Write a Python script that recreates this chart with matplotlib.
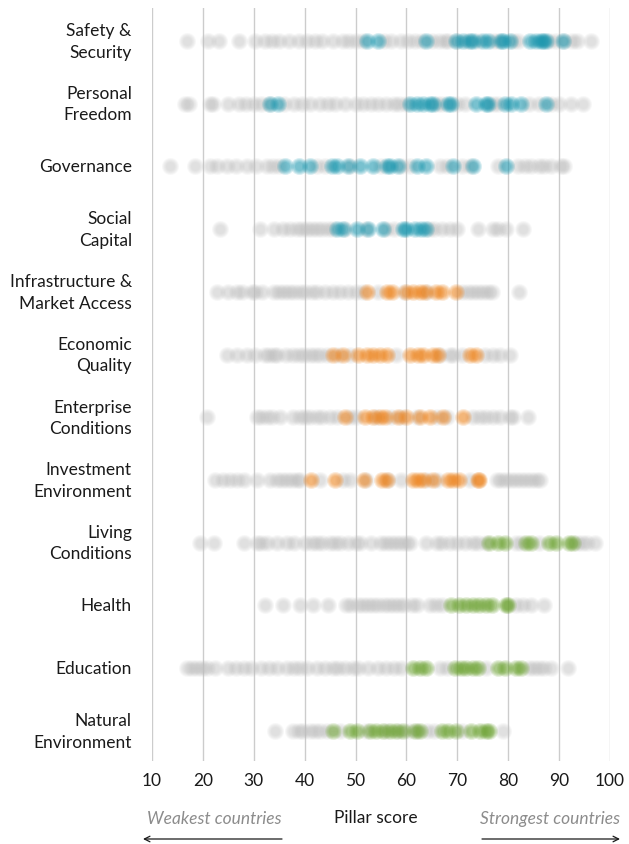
import numpy as np
import matplotlib
matplotlib.use('Agg')
from matplotlib import pyplot as plt

plt.rcParams['font.family'] = ['Lato', 'DejaVu Sans']

# pillar names, top to bottom
pillars = ['Safety &\nSecurity', 'Personal\nFreedom', 'Governance', 'Social\nCapital',
           'Infrastructure &\nMarket Access', 'Economic\nQuality', 'Enterprise\nConditions',
           'Investment\nEnvironment', 'Living\nConditions', 'Health', 'Education',
           'Natural\nEnvironment']

# scores of all countries (grey) and of the highlighted region (coloured)
safety_all = [16.9, 21.1, 23.1, 27.1, 30.3, 32.2, 33.6, 35, 37, 38.8, 40.5, 42, 43.5, 45.5, 47.5, 48.7,
              50, 51.5, 55.5, 57, 59, 60.3, 61.7, 63, 65, 66.3, 67.5, 68.2, 70, 72, 74, 77, 78, 81, 82,
              88, 89.3, 91, 92.5, 93.5, 96.3]
safety_reg = [52.2, 54.4, 63.9, 69.8, 71.1, 72.5, 73.1, 75, 76, 78.5, 79, 80.3, 84.2, 85.5, 86.5,
              86.8, 87.5, 90.7]
freedom_all = [16.5, 17.2, 21.4, 22, 25, 27, 28.5, 30, 31.5, 33, 36, 38, 39.5, 41, 43, 44.5, 46, 48,
               50, 51.5, 53, 54.5, 56, 57.5, 58.5, 60, 66, 67, 70, 71.5, 77, 78, 84, 86, 88.5, 90,
               92.4, 94.6]
freedom_reg = [33.1, 34.8, 60.7, 62, 63.3, 64.6, 65.3, 68.2, 68.8, 73.7, 75.7, 76.1, 79.3, 80.6,
               82.5, 87.5]
governance_all = [13.5, 18.5, 21.4, 22.7, 24.7, 26.6, 28.6, 30.5, 32.5, 33.8, 35, 42.5, 44, 49, 55,
                  59, 60.7, 66.6, 68, 71, 72.5, 78, 82, 83.2, 84.5, 86, 87, 88.5, 90.3, 91]
governance_reg = [36.1, 38.8, 41, 45.3, 46.3, 48.6, 50.8, 53.5, 56.1, 56.8, 58.4, 62, 63.9, 69.2,
                  73.1, 79.6]
social_all = [23.4, 31.2, 33.9, 35.8, 37.1, 38.5, 39.5, 40.5, 41.5, 42.5, 43.5, 44.5, 45.5, 48, 52,
              56, 57.5, 64.5, 65.5, 67, 68.5, 70, 74, 77, 78, 79.6, 82.9]
social_reg = [46.3, 47.6, 50.2, 52.5, 55.4, 59.3, 60, 61.6, 62.9, 63.9]
infra_all = [22.7, 25, 26.7, 27.6, 29.6, 30.3, 31.6, 34, 35, 36, 37, 38, 39, 40, 41.5, 42.5, 44,
             45.5, 47, 48.5, 50, 51.5, 54.5, 59.5, 64, 71, 72, 73, 74, 75, 76, 76.8, 82.2]
infra_reg = [52.2, 56.1, 57.1, 60, 61.3, 62.6, 63.6, 65.9, 66.9, 69.8]
economic_all = [24.7, 26.7, 28.6, 30.3, 32.2, 33, 34, 34.5, 36.3, 37.8, 38.8, 39.8, 41, 42, 43, 44.3,
                46.5, 49, 58, 66.5, 68.5, 69.2, 71, 75.5, 77, 78.3, 80.3]
economic_reg = [45.6, 47.6, 50.5, 52.2, 53.5, 54.8, 56.1, 60.7, 62.3, 63.3, 65.2, 66.2, 72.4, 73.7]
enterprise_all = [20.8, 30.6, 31.5, 32.5, 33.5, 35.2, 37.8, 39, 40, 41, 42.5, 43.5, 45, 46.3, 49, 50,
                  54, 57, 59, 62, 66, 68, 73, 74.5, 75.7, 77, 78.3, 80.3, 81, 83.9]
enterprise_reg = [47.9, 51.8, 53.5, 54.8, 55.8, 58.4, 60, 62.6, 64.6, 67.2, 71.1]
investment_all = [22.4, 24, 25.3, 26.7, 28, 30.6, 33.2, 34.5, 35.5, 36.5, 37.5, 38.5, 39, 43, 47.6,
                  49, 52, 56.3, 59, 64, 66, 72.5, 77.7, 78.5, 79.5, 80.5, 81.5, 82.5, 83.5, 84.5,
                  85.5, 86.2]
investment_reg = [41.2, 46, 51.6, 55.1, 56.1, 61.3, 62.3, 63.3, 65.2, 68.2, 69.2, 70.4, 74, 74.3]
living_all = [19.5, 22.2, 28, 30.6, 31.5, 32.5, 34.5, 36.5, 38, 40, 41.5, 42.5, 43.5, 45, 46, 47,
              48.5, 50, 50.8, 53, 55, 56, 57, 58, 59, 60, 60.7, 63.9, 66, 67, 68.5, 70, 71.5, 73,
              74, 75.7, 81.5, 82.5, 86, 93.5, 94.5, 95.5, 97]
living_reg = [76.3, 78, 79.3, 83.5, 84.5, 88.1, 89.4, 92, 92.7]
health_all = [32.2, 35.8, 39.1, 41.7, 44.6, 48.2, 49.2, 50.5, 51.5, 52.5, 53.5, 54.5, 55.5, 56.5,
              57.5, 58.5, 59.5, 61, 62, 64.6, 65.8, 67, 81.5, 83, 84.5, 87.1]
health_reg = [68.8, 70.4, 71.7, 73, 74.3, 75.6, 76.9, 79.5, 79.9]
education_all = [16.9, 17.8, 18.8, 19.8, 20.8, 22.4, 25, 26.5, 28, 29.5, 31.5, 33, 34.5, 36.5, 38,
                 39, 40.5, 42.5, 44, 45.5, 46.5, 48, 49.5, 50.5, 52.5, 54.5, 56, 57.5, 59, 66.5, 68,
                 75.7, 84, 85, 86, 87, 88.5, 91.7]
education_reg = [61.3, 62.6, 63.9, 69.5, 70.8, 71.8, 73.1, 74.1, 78, 79.3, 81.6, 82.5]
natural_all = [34.2, 37.8, 38.8, 39.7, 41, 42, 43, 44.3, 47, 52, 56, 58.5, 60.5, 62, 64, 65.5, 71, 79]
natural_reg = [45.6, 48.9, 50.2, 52.8, 54.1, 55.4, 56.7, 58, 59.3, 61.6, 62.6, 66.9, 68.2, 69.8,
               72.7, 74.4, 75.7, 76.3]

all_scores = [safety_all, freedom_all, governance_all, social_all, infra_all, economic_all,
              enterprise_all, investment_all, living_all, health_all, education_all, natural_all]
reg_scores = [safety_reg, freedom_reg, governance_reg, social_reg, infra_reg, economic_reg,
              enterprise_reg, investment_reg, living_reg, health_reg, education_reg, natural_reg]

# one colour per domain: people, economy, living conditions
domain_colors = ['#1a97af'] * 4 + ['#ee841e'] * 4 + ['#6ea434'] * 4
xticks = [10, 20, 30, 40, 50, 60, 70, 80, 90, 100]


def soft_scatter(ax, xs, y, color, alpha, size_px=12):
    # stack discs of shrinking size so the dots get a soft, blurry edge
    layers = [size_px + 5, size_px + 3, size_px + 1, size_px - 1, size_px - 3]
    a = 1 - (1 - alpha) ** (1 / len(layers))
    for d in layers:
        s = (d * 72 / 100) ** 2
        ax.scatter(xs, [y] * len(xs), s=s, color=color, alpha=a, linewidths=0,
                   clip_on=False, zorder=3)


fig = plt.figure(figsize=(6.29, 8.45), dpi=100)
ax = fig.add_axes([152 / 629, 83 / 845, 458 / 629, 753 / 845])

for i, (grey, reg) in enumerate(zip(all_scores, reg_scores)):
    soft_scatter(ax, grey, i, '#c0c0c0', 0.45)
    soft_scatter(ax, reg, i, domain_colors[i], 0.58)
    ax.text(-0.044, i, pillars[i], transform=ax.get_yaxis_transform(), ha='right', va='center',
            multialignment='right', fontsize=12.5, color='#1a1a1a', linespacing=1.42)

ax.set_xlim(10, 100)
ax.set_ylim(11.48, -0.526)
ax.set_xticks(xticks)
ax.set_xticklabels([str(t) for t in xticks], fontsize=12.5, color='#1a1a1a')
ax.set_yticks([])
ax.tick_params(axis='x', length=0, pad=8)
ax.grid(axis='x', color='#cccccc', linewidth=1, zorder=0)
ax.set_axisbelow(True)
for sp in ax.spines.values():
    sp.set_visible(False)

# axis caption and direction hints
fig.text(376 / 629, 1 - 818 / 845, 'Pillar score', ha='center', va='center', fontsize=12.5,
         color='#1a1a1a')
fig.text(282 / 629, 1 - 819 / 845, 'Weakest countries', ha='right', va='center', fontsize=12.5,
         style='italic', color='#8c8c8c')
fig.text(620 / 629, 1 - 819 / 845, 'Strongest countries', ha='right', va='center', fontsize=12.5,
         style='italic', color='#8c8c8c')
arrow = dict(arrowstyle='->', lw=0.9, color='#1a1a1a', shrinkA=0, shrinkB=0,
             mutation_scale=10)
ax.annotate('', xy=(143 / 629, 1 - 840 / 845), xytext=(282 / 629, 1 - 840 / 845),
            xycoords='figure fraction', textcoords='figure fraction', arrowprops=arrow)
ax.annotate('', xy=(620 / 629, 1 - 840 / 845), xytext=(482 / 629, 1 - 840 / 845),
            xycoords='figure fraction', textcoords='figure fraction', arrowprops=arrow)

fig.savefig('out.png', dpi=100)
plt.close(fig)
